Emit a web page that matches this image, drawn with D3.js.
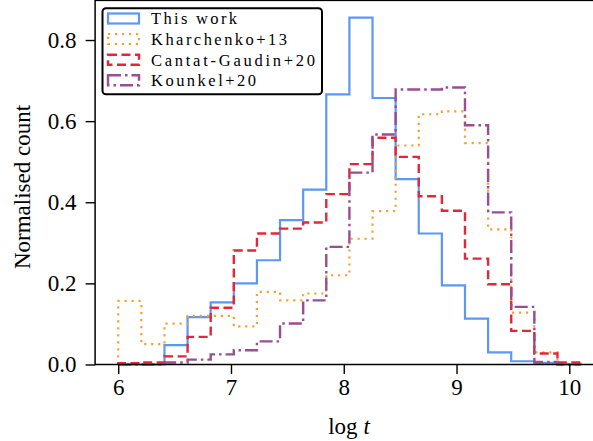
<!DOCTYPE html>
<html>
<head>
<meta charset="utf-8">
<script src="https://cdn.jsdelivr.net/npm/d3@7/dist/d3.min.js"></script>
<style>
  html, body { margin: 0; padding: 0; background: #fff; }
  svg { display: block; }
  text { font-family: "Liberation Serif", "DejaVu Serif", serif; fill: #000; }
</style>
</head>
<body>
<svg id="chart" width="593" height="441"></svg>
<script>
// Histogram bin edges in log t
const binEdges = [6.000, 6.205, 6.410, 6.615, 6.820, 7.025, 7.230, 7.435, 7.640, 7.845,
                  8.050, 8.255, 8.460, 8.665, 8.870, 9.075, 9.280, 9.485, 9.690, 9.895, 10.100];

// Normalised counts per bin
const thisWork   = [0, 0, 0.048, 0.117, 0.153, 0.200, 0.257, 0.356, 0.431, 0.666,
                    0.855, 0.657, 0.457, 0.323, 0.195, 0.113, 0.030, 0.008, 0.004, 0];
const kharchenko = [0.157, 0.050, 0.101, 0.120, 0.120, 0.094, 0.179, 0.158, 0.175, 0.220,
                    0.310, 0.378, 0.540, 0.617, 0.624, 0.546, 0.333, 0.128, 0.030, 0.002];
const cantat     = [0.003, 0.005, 0.020, 0.068, 0.140, 0.281, 0.323, 0.335, 0.350, 0.420,
                    0.494, 0.559, 0.512, 0.415, 0.379, 0.261, 0.198, 0.083, 0.027, 0.005];
const kounkel    = [0, 0, 0.005, 0.012, 0.025, 0.035, 0.057, 0.101, 0.158, 0.290,
                    0.473, 0.567, 0.678, 0.678, 0.683, 0.590, 0.375, 0.142, 0.006, 0];

const seriesNames = ["This work", "Kharchenko+13", "Cantat-Gaudin+20", "Kounkel+20"];
const xTicks = [6, 7, 8, 9, 10];
const yTicks = [0.0, 0.2, 0.4, 0.6, 0.8];

const styles = [
  { color: "#5b98f6", dash: null,            width: 2.2 },
  { color: "#f7a030", dash: "2.2,4.8",       width: 2.2 },
  { color: "#e62638", dash: "9,4.5",         width: 2.4 },
  { color: "#984e91", dash: "13,4,2.5,4",    width: 2.4 }
];
const allSeries = [thisWork, kharchenko, cantat, kounkel];

const svg = d3.select("#chart");

// Axes frame: x limits carry a 5% margin around the bin range
const xPad = 0.05 * (binEdges[binEdges.length - 1] - binEdges[0]);
const x = d3.scaleLinear()
  .domain([binEdges[0] - xPad, binEdges[binEdges.length - 1] + xPad])
  .range([95.1, 603.7]);
const yMax = 1.05 * d3.max(allSeries.flat());
const y = d3.scaleLinear().domain([0, yMax]).range([364.5, 364.5 - yMax * 405.6]);

const [x0, x1] = x.range();
const [yb, yt] = y.range();

// Step outlines, one per series
const stepPath = vals => {
  const pts = [[binEdges[0], 0]];
  vals.forEach((v, i) => { pts.push([binEdges[i], v]); pts.push([binEdges[i + 1], v]); });
  pts.push([binEdges[binEdges.length - 1], 0]);
  return d3.line().x(d => x(d[0])).y(d => y(d[1]))(pts);
};

const plot = svg.append("g");
allSeries.forEach((vals, k) => {
  plot.append("path")
    .attr("d", stepPath(vals))
    .attr("fill", "none")
    .attr("stroke", styles[k].color)
    .attr("stroke-width", styles[k].width)
    .attr("stroke-dasharray", styles[k].dash)
    .attr("stroke-linejoin", "miter");
});

// Frame
svg.append("rect")
  .attr("x", x0).attr("y", yt)
  .attr("width", x1 - x0).attr("height", yb - yt)
  .attr("fill", "none").attr("stroke", "#000").attr("stroke-width", 1.5);

// X axis
const xAxis = svg.append("g").attr("transform", `translate(0,${yb})`)
  .call(d3.axisBottom(x).tickValues(xTicks).tickFormat(d3.format("d")).tickSize(9.5).tickPadding(5));
xAxis.select(".domain").remove();
xAxis.selectAll(".tick line").attr("stroke", "#000").attr("stroke-width", 1.4);
xAxis.selectAll(".tick text")
  .style("font-family", "'Liberation Serif', serif").style("font-size", "23px").attr("fill", "#000");

// Y axis
const yAxis = svg.append("g").attr("transform", `translate(${x0},0)`)
  .call(d3.axisLeft(y).tickValues(yTicks).tickFormat(d3.format(".1f")).tickSize(9.5).tickPadding(9));
yAxis.select(".domain").remove();
yAxis.selectAll(".tick line").attr("stroke", "#000").attr("stroke-width", 1.4);
yAxis.selectAll(".tick text")
  .style("font-family", "'Liberation Serif', serif").style("font-size", "23px").attr("fill", "#000");

// Axis titles
const xl = svg.append("text")
  .attr("x", 349).attr("y", 434)
  .attr("text-anchor", "middle")
  .style("font-size", "23px");
xl.append("tspan").text("log ");
xl.append("tspan").style("font-style", "italic").text("t");

svg.append("text")
  .attr("transform", "translate(30,187) rotate(-90)")
  .attr("text-anchor", "middle")
  .style("font-size", "23px")
  .text("Normalised count");

// Legend
const legend = svg.append("g");
legend.append("rect")
  .attr("x", 102.5).attr("y", 8.2).attr("width", 219.5).attr("height", 86)
  .attr("rx", 3.5).attr("ry", 3.5)
  .attr("fill", "#fff").attr("stroke", "#000").attr("stroke-width", 2);

const legendRows = [13.5, 34, 54.8, 75.3];
const labelWidths = [86, 136, 164, 105];
seriesNames.forEach((name, k) => {
  const yy = legendRows[k];
  legend.append("rect")
    .attr("x", 108).attr("y", yy).attr("width", 31).attr("height", 10)
    .attr("fill", "none")
    .attr("stroke", styles[k].color)
    .attr("stroke-width", styles[k].width)
    .attr("stroke-dasharray", styles[k].dash);
  legend.append("text")
    .attr("x", 151).attr("y", yy + 10.8)
    .attr("textLength", labelWidths[k])
    .attr("lengthAdjust", "spacing")
    .style("font-size", "16.5px")
    .text(name);
});
</script>
</body>
</html>
